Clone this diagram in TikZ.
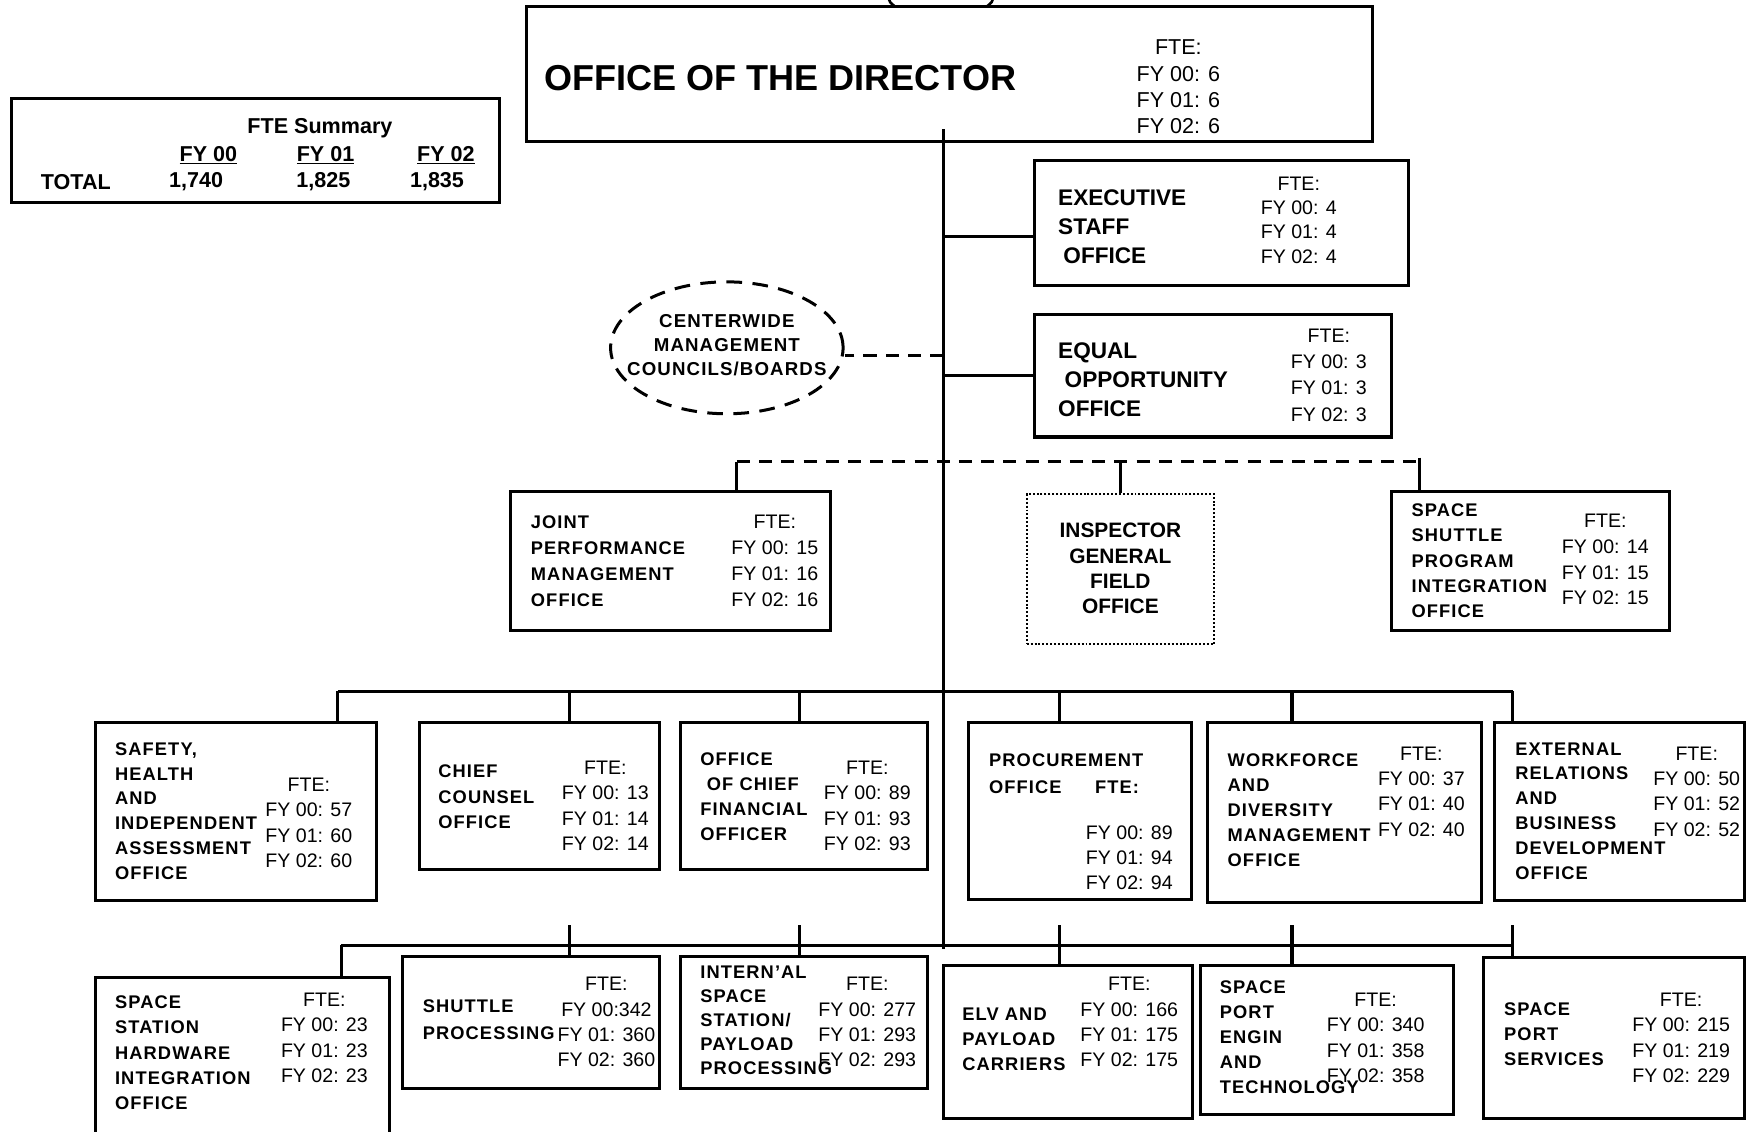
\documentclass[tikz,border=0pt]{standalone}
\usepackage{fontspec}
\setmainfont{Liberation Sans}
\newfontfamily\namefont{Liberation Sans}[LetterSpace=6]
\usetikzlibrary{fit, shapes.geometric}

\tikzset{
    box/.style={draw, line width=2.3pt, inner sep=0pt},
    igbox/.style={draw, line width=1.5pt, dash pattern=on 1.5pt off 1.5pt, inner sep=0pt},
    unitname/.style={font=\namefont\bfseries\fontsize{14}{19.2}\selectfont, align=left, anchor=west, inner sep=0pt},
    topname/.style={font=\bfseries\fontsize{17.3}{22.2}\selectfont, align=left, anchor=west, inner sep=0pt},
    ftecol/.style={font=\fontsize{15}{19.4}\selectfont, align=center, inner sep=0pt},
    sumtext/.style={font=\bfseries\fontsize{16.5}{20}\selectfont, inner sep=0pt},
    link/.style={line width=2.4pt},
    dashlink/.style={line width=2.4pt, dash pattern=on 10pt off 7pt}
}

\begin{document}
\begin{tikzpicture}[x=0.03cm, y=-0.03cm]
    \useasboundingbox (0,0) rectangle (1568,1015);

    % director and summary
    \draw[line width=2pt] (797,-3) .. controls (798,2) .. (803,6);
    \draw[line width=2pt] (891,-3) .. controls (890,2) .. (885,6);
    \node[box, fit={(472,6) (1231,127)}] (dir) {};
    \node[font=\bfseries\fontsize{27.6}{32}\selectfont, anchor=west, inner sep=0pt] (dirname) at (488,70) {OFFICE OF THE DIRECTOR};
    \node[ftecol, font=\fontsize{16.5}{20.2}\selectfont] (dirfte) at (1057,78) {FTE:\\FY 00: 6\\FY 01: 6\\FY 02: 6};

    \node[box, fit={(10,88) (448,182)}] (summary) {};
    \node[sumtext] (sumtitle) at (287,115) {FTE Summary};
    \node[sumtext] (sumfy0) at (187,139) {\underline{FY 00}};
    \node[sumtext] (sumfy1) at (292,139) {\underline{FY 01}};
    \node[sumtext] (sumfy2) at (400,139) {\underline{FY 02}};
    \node[sumtext] (sumtotal) at (68,163) {TOTAL};
    \node[sumtext] (sumv0) at (176,163) {1,740};
    \node[sumtext] (sumv1) at (290,163) {1,825};
    \node[sumtext] (sumv2) at (392,163) {1,835};

    % staff offices
    \node[box, fit={(928,144) (1263,256)}] (exec) {};
    \node[topname] (exectxt) at (949,203) {EXECUTIVE\\STAFF\\\hspace*{4pt}OFFICE};
    \node[ftecol, font=\fontsize{15}{18.5}\selectfont] (execfte) at (1165,197.5) {FTE:\\FY 00: 4\\FY 01: 4\\FY 02: 4};

    \node[box, fit={(928,282) (1248,392)}] (eeo) {};
    \node[topname] (eeotxt) at (949,341) {EQUAL\\\hspace*{5pt}OPPORTUNITY\\OFFICE};
    \node[ftecol, font=\fontsize{15}{20.2}\selectfont] (eeofte) at (1192,336.5) {FTE:\\FY 00: 3\\FY 01: 3\\FY 02: 3};

    \node[draw, ellipse, line width=2.3pt, dash pattern=on 12pt off 8pt, minimum width=178pt, minimum height=101pt, inner sep=0pt] (cwm) at (652,312) {};
    \node[font=\namefont\bfseries\fontsize{14.3}{18.4}\selectfont, align=center, inner sep=0pt] (cwmtxt) at (652,310) {CENTERWIDE\\MANAGEMENT\\COUNCILS/BOARDS};

    \node[box, fit={(458,441) (745,566)}] (jpm) {};
    \node[unitname, font=\namefont\bfseries\fontsize{14}{19.9}\selectfont] (jpmtxt) at (476,503) {JOINT\\PERFORMANCE\\MANAGEMENT\\OFFICE};
    \node[ftecol, font=\fontsize{15}{19.9}\selectfont] (jpmfte) at (695,503) {FTE:\\FY 00: 15\\FY 01: 16\\FY 02: 16};

    \node[igbox, fit={(921,443) (1089,578)}] (igfo) {};
    \node[font=\bfseries\fontsize{16}{19.4}\selectfont, align=center, inner sep=0pt] (igtxt) at (1005,510) {INSPECTOR\\GENERAL\\FIELD\\OFFICE};

    \node[box, fit={(1248,441) (1498,566)}] (sspi) {};
    \node[unitname] (sspitxt) at (1266,503) {SPACE\\SHUTTLE\\PROGRAM\\INTEGRATION\\OFFICE};
    \node[ftecol, font=\fontsize{15}{19.6}\selectfont] (sspifte) at (1440,502) {FTE:\\FY 00: 14\\FY 01: 15\\FY 02: 15};

    % first row
    \node[box, fit={(86,648) (338,808)}] (sha) {};
    \node[unitname, font=\namefont\bfseries\fontsize{14}{19}\selectfont] (shatxt) at (103,727.5) {SAFETY,\\HEALTH\\AND\\INDEPENDENT\\ASSESSMENT\\OFFICE};
    \node[ftecol] (shafte) at (277,738) {FTE:\\FY 00: 57\\FY 01: 60\\FY 02: 60};

    \node[box, fit={(376,648) (592,780)}] (cco) {};
    \node[unitname, font=\namefont\bfseries\fontsize{14}{19.6}\selectfont] (ccotxt) at (393,715) {CHIEF\\COUNSEL\\OFFICE};
    \node[ftecol] (ccofte) at (543,723) {FTE:\\FY 00: 13\\FY 01: 14\\FY 02: 14};

    \node[box, fit={(610,648) (832,780)}] (cfo) {};
    \node[unitname] (cfotxt) at (628,715) {OFFICE\\\hspace*{5pt}OF CHIEF\\FINANCIAL\\OFFICER};
    \node[ftecol] (cfofte) at (778,723) {FTE:\\FY 00: 89\\FY 01: 93\\FY 02: 93};

    \node[box, fit={(869,648) (1069,807)}] (proc) {};
    \node[unitname, font=\namefont\bfseries\fontsize{14}{20.5}\selectfont] (proctxt) at (887,694) {PROCUREMENT\\OFFICE};
    \node[font=\namefont\bfseries\fontsize{14}{19}\selectfont, inner sep=0pt] (proclbl) at (1002,706) {FTE:};
    \node[ftecol] (procfte) at (1013,769.5) {FY 00: 89\\FY 01: 94\\FY 02: 94};

    \node[box, fit={(1083,648) (1329,810)}] (wdm) {};
    \node[unitname] (wdmtxt) at (1101,727) {WORKFORCE\\AND\\DIVERSITY\\MANAGEMENT\\OFFICE};
    \node[ftecol] (wdmfte) at (1275,710) {FTE:\\FY 00: 37\\FY 01: 40\\FY 02: 40};

    \node[box, fit={(1341,648) (1565,808)}] (erbd) {};
    \node[unitname, font=\namefont\bfseries\fontsize{14}{19}\selectfont] (erbdtxt) at (1359,727.5) {EXTERNAL\\RELATIONS\\AND\\BUSINESS\\DEVELOPMENT\\OFFICE};
    \node[ftecol] (erbdfte) at (1522,710) {FTE:\\FY 00: 50\\FY 01: 52\\FY 02: 52};

    % second row
    \node[box, fit={(86,877) (349,1030)}] (sshi) {};
    \node[unitname, font=\namefont\bfseries\fontsize{14}{19.4}\selectfont] (sshitxt) at (103,944.5) {SPACE\\STATION\\HARDWARE\\INTEGRATION\\OFFICE};
    \node[ftecol] (sshifte) at (291,931) {FTE:\\FY 00: 23\\FY 01: 23\\FY 02: 23};

    \node[box, fit={(361,858) (592,976)}] (shp) {};
    \node[unitname, font=\namefont\bfseries\fontsize{14}{20.5}\selectfont] (shptxt) at (379,915) {SHUTTLE\\PROCESSING};
    \node[ftecol] (shpfte) at (544,917) {FTE:\\FY 00:342\\FY 01: 360\\FY 02: 360};

    \node[box, fit={(610,858) (832,976)}] (iss) {};
    \node[unitname, font=\namefont\bfseries\fontsize{14}{18.4}\selectfont] (isstxt) at (628,915) {INTERN’AL\\SPACE\\STATION/\\PAYLOAD\\PROCESSING};
    \node[ftecol] (issfte) at (778,917) {FTE:\\FY 00: 277\\FY 01: 293\\FY 02: 293};

    \node[box, fit={(846,866) (1070,1003)}] (elv) {};
    \node[unitname, font=\namefont\bfseries\fontsize{14}{19.2}\selectfont] (elvtxt) at (863,932) {ELV AND\\PAYLOAD\\CARRIERS};
    \node[ftecol] (elvfte) at (1013,917) {FTE:\\FY 00: 166\\FY 01: 175\\FY 02: 175};

    \node[box, fit={(1077,866) (1304,1000)}] (spe) {};
    \node[unitname] (spetxt) at (1094,930.5) {SPACE\\PORT\\ENGIN\\AND\\TECHNOLOGY};
    \node[ftecol] (spefte) at (1234,931) {FTE:\\FY 00: 340\\FY 01: 358\\FY 02: 358};

    \node[box, fit={(1331,859) (1565,1003)}] (sps) {};
    \node[unitname, font=\namefont\bfseries\fontsize{14}{19.2}\selectfont] (spstxt) at (1349,928) {SPACE\\PORT\\SERVICES};
    \node[ftecol] (spsfte) at (1508,931) {FTE:\\FY 00: 215\\FY 01: 219\\FY 02: 229};

    % connectors
    \coordinate (trunktop) at (846,116);
    \coordinate (trunkend) at (846,851);
    \draw[link] (trunktop) -- (trunkend);
    \coordinate (jexec) at (846,212);
    \draw[link] (jexec) -- (jexec -| exec.west);
    \coordinate (jeeo) at (846,337);
    \draw[link] (jeeo) -- (jeeo -| eeo.west);
    \coordinate (jcwm) at (846,319);
    \draw[dashlink] (jcwm) -- (jcwm -| cwm.east);

    \coordinate (staffl) at (661,414);
    \coordinate (staffr) at (1273,414);
    \draw[dashlink] (staffl) -- (staffr);
    \draw[link] (staffl) -- (staffl |- jpm.north);
    \draw[link] (igfo.north) -- (igfo.north |- staffl);
    \draw[link] ([yshift=3pt]staffr) -- (staffr |- sspi.north);

    \coordinate (upl) at (303,620);
    \coordinate (upr) at (1357,620);
    \draw[link] (upl) -- (upr);
    \foreach \x/\b in {303/sha, 511/cco, 717/cfo, 950/proc, 1159/wdm, 1357/erbd}
        \draw[link] (\x,620) -- (\b.north -| \x,620);

    \coordinate (lowl) at (306,848);
    \coordinate (lowr) at (1357,848);
    \draw[link] (lowl) -- (lowr);
    \draw[link] (lowl) -- (lowl |- sshi.north);
    \foreach \x/\b in {511/shp, 717/iss, 950/elv, 1159/spe, 1357/sps}
        \draw[link] (\x,830) -- (\b.north -| \x,830);
\end{tikzpicture}
\end{document}
